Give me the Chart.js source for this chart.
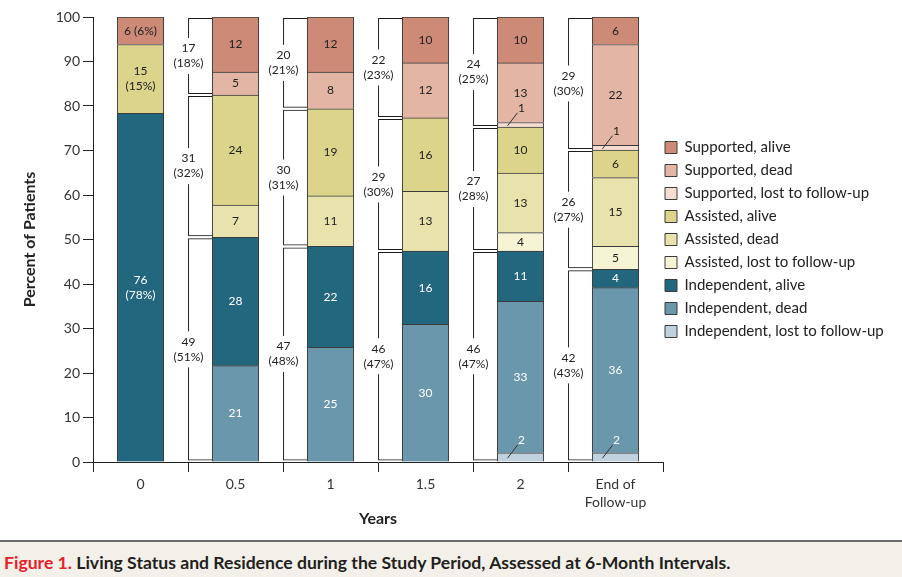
<!DOCTYPE html>
<html><head><meta charset="utf-8">
<script src="https://cdn.jsdelivr.net/npm/chart.js@4.4.1/dist/chart.umd.min.js"></script>
<style>
html,body{margin:0;padding:0;background:#fff;}
#wrap{position:relative;width:902px;height:540px;}
#cap{width:902px;height:37px;box-sizing:border-box;border-top:2px solid #6b6b6b;background:#f3f0e9;font:bold 17.6px Lato, sans-serif;color:#231f20;line-height:34px;padding:4px 0 0 4px;white-space:nowrap;overflow:hidden;}
#cap .fig{color:#e5202a;}
</style></head><body>
<div id="wrap"><canvas id="c" width="902" height="540"></canvas></div>
<div id="cap"><span class="fig">Figure 1.</span> Living Status and Residence during the Study Period, Assessed at 6-Month Intervals.</div>
<script>
// ---- data (patient counts) ----
const timeLabels = ['0', '0.5', '1', '1.5', '2', ['End of', 'Follow-up']];
const totalPatients = 97;
const supportedAlive = [6, 12, 12, 10, 10, 6];
const supportedDead  = [0, 5, 8, 12, 13, 22];
const supportedLost  = [0, 0, 0, 0, 1, 1];
const assistedAlive  = [15, 24, 19, 16, 10, 6];
const assistedDead   = [0, 7, 11, 13, 13, 15];
const assistedLost   = [0, 0, 0, 0, 4, 5];
const independentAlive = [76, 28, 22, 16, 11, 4];
const independentDead  = [0, 21, 25, 30, 33, 36];
const independentLost  = [0, 0, 0, 0, 2, 2];
const showGroupBracket = [false, true, true, true, true, true];
const showPercentInBar = [true, false, false, false, false, false];

// ---- styles ----
const mainBarPct = 0.49;
const mainBarPx = 46.5;
const bracketPx = 25.2;
const bracketShift = -(mainBarPct / 2 + (1 - mainBarPct) / 4) - 0.005;
const DARK = '#222';
const WHITE = '#fff';

const series = [
  {label: 'Independent, lost to follow-up', data: independentLost, color: '#bed1dd', text: DARK},
  {label: 'Independent, dead', data: independentDead, color: '#6a97ac', text: WHITE},
  {label: 'Independent, alive', data: independentAlive, color: '#23677f', text: WHITE},
  {label: 'Assisted, lost to follow-up', data: assistedLost, color: '#f6f3d5', text: DARK},
  {label: 'Assisted, dead', data: assistedDead, color: '#e8e3ad', text: DARK},
  {label: 'Assisted, alive', data: assistedAlive, color: '#dcd48b', text: DARK},
  {label: 'Supported, lost to follow-up', data: supportedLost, color: '#f6ddd2', text: DARK},
  {label: 'Supported, dead', data: supportedDead, color: '#e2b5a5', text: DARK},
  {label: 'Supported, alive', data: supportedAlive, color: '#cc8a77', text: DARK}
];

const mainDatasets = series.map((s, k) => ({
  kind: 'seg',
  label: s.label,
  counts: s.data,
  textColor: s.text,
  leaderColor: (series[k + 1] || s).text,
  data: s.data.map(v => v ? v / totalPatients * 100 : null),
  backgroundColor: s.color,
  borderColor: '#3b3b3b',
  borderWidth: 1,
  grouped: false,
  barThickness: mainBarPx,
  xAxisID: 'x',
  yAxisID: 'y'
}));

const groups = [
  [independentLost, independentDead, independentAlive],
  [assistedLost, assistedDead, assistedAlive],
  [supportedLost, supportedDead, supportedAlive]
];
const bracketDatasets = groups.map((parts, g) => {
  const counts = [], data = [];
  timeLabels.forEach((t, i) => {
    if (!showGroupBracket[i]) return;
    let below = 0;
    for (let h = 0; h < g; h++) groups[h].forEach(p => { below += p[i]; });
    const n = parts.reduce((a, p) => a + p[i], 0);
    counts.push(n);
    data.push({x: i + bracketShift, y: [below / totalPatients * 100, (below + n) / totalPatients * 100]});
  });
  return {
    kind: 'bracket', label: '_bracket' + g, counts, data,
    xAxisID: 'xb', yAxisID: 'y', stack: 'br' + g, grouped: false,
    backgroundColor: '#fff', borderColor: '#1a1a1a', borderWidth: 3, inflateAmount: -1,
    borderSkipped: 'right', barThickness: bracketPx
  };
});

const legendShift = {
  id: 'legendShift',
  afterLayout(chart) {
    const lg = chart.legend;
    if (!lg) return;
    lg.left = chart.chartArea.right + 2 - lg.options.labels.padding;
    lg.right = chart.width;
    lg.width = lg.right - lg.left;
  }
};

const segLabels = {
  id: 'segLabels',
  afterDatasetsDraw(chart) {
    const c = chart.ctx;
    c.save();
    c.font = '12px Lato';
    c.textAlign = 'center';
    c.textBaseline = 'middle';
    chart.data.datasets.forEach((ds, di) => {
      const meta = chart.getDatasetMeta(di);
      if (ds.kind === 'bracket') {
        meta.data.forEach((el, k) => {
          const n = ds.counts[k];
          const pct = Math.round(n / totalPatients * 100);
          const left = el.x - el.width / 2 + 1.5;
          const cy = (el.y + el.base) / 2;
          const l1 = String(n), l2 = '(' + pct + '%)';
          const w = Math.max(c.measureText(l1).width, c.measureText(l2).width) + 4;
          c.fillStyle = '#fff';
          c.fillRect(left - w / 2, cy - 18, w, 36);
          c.fillStyle = DARK;
          c.fillText(l1, left, cy - 7.5);
          c.fillText(l2, left, cy + 7.5);
        });
      } else if (ds.kind === 'seg') {
        meta.data.forEach((el, i) => {
          const n = ds.counts[i];
          if (!n) return;
          const cx = el.x, cy = (el.y + el.base) / 2, h = el.base - el.y;
          if (h < 12) {
            c.strokeStyle = '#333';
            c.lineWidth = 1;
            c.beginPath();
            c.moveTo(cx - 13, cy + 1);
            c.lineTo(cx - 3, cy - 12);
            c.stroke();
            c.fillStyle = ds.leaderColor;
            c.fillText(String(n), cx + 1, cy - 17);
            return;
          }
          c.fillStyle = ds.textColor;
          if (showPercentInBar[i]) {
            const pct = Math.round(n / totalPatients * 100);
            if (h > 34) {
              c.fillText(String(n), cx, cy - 7.5);
              c.fillText('(' + pct + '%)', cx, cy + 7.5);
            } else {
              c.fillText(n + ' (' + pct + '%)', cx, cy);
            }
          } else {
            c.fillText(String(n), cx, cy);
          }
        });
      }
    });
    c.restore();
  }
};

Chart.defaults.font.family = 'Lato';

new Chart(document.getElementById('c'), {
  type: 'bar',
  data: {labels: timeLabels, datasets: [...mainDatasets, ...bracketDatasets]},
  options: {
    responsive: false,
    animation: false,
    devicePixelRatio: 1,
    layout: {padding: {left: 0, top: 17, right: 39, bottom: 8}},
    plugins: {
      tooltip: {enabled: false},
      legend: {
        position: 'right', fullSize: false, maxWidth: 200, reverse: true,
        labels: {
          boxWidth: 12, boxHeight: 12, padding: 8, color: '#222',
          font: {size: 15},
          filter: item => !item.text.startsWith('_')
        }
      }
    },
    scales: {
      x: {
        type: 'category', offset: true, stacked: true,
        grid: {offset: true, drawOnChartArea: false, drawTicks: true, tickLength: 10, color: '#222'},
        border: {color: '#222'},
        ticks: {color: '#333', font: {size: 14, lineHeight: 1.3}, padding: 3, maxRotation: 0, autoSkip: false},
        title: {display: true, text: 'Years', color: '#222', font: {size: 16, weight: 'bold'}, padding: {top: 4, bottom: 4}},
        afterFit(s) { s.height = 70; }
      },
      xb: {type: 'linear', display: false, min: -0.5, max: 5.5, offset: false},
      y: {
        stacked: true, min: 0, max: 100,
        ticks: {stepSize: 10, color: '#333', font: {size: 14}, padding: 3},
        grid: {drawOnChartArea: false, drawTicks: true, tickLength: 10, color: '#222'},
        border: {color: '#222'},
        title: {display: true, text: 'Percent of Patients', color: '#222', font: {size: 16, weight: 'bold'}, padding: {top: 20}},
        afterFit(s) { s.width = 93; }
      }
    }
  },
  plugins: [legendShift, segLabels]
});
</script>
</body></html>
